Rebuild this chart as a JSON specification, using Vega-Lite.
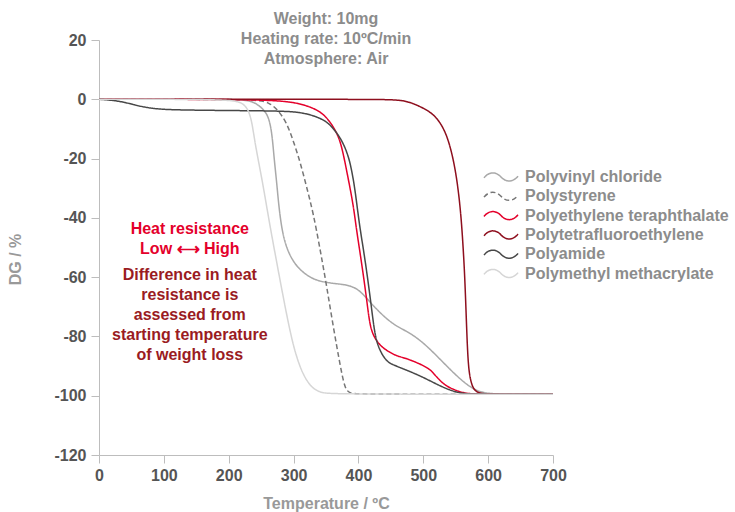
{
  "$schema": "https://vega.github.io/schema/vega-lite/v6.json",
  "width": 454,
  "height": 415,
  "autosize": "none",
  "padding": {"left": 99, "top": 40, "right": 182, "bottom": 57},
  "title": {
    "text": ["Weight: 10mg", "Heating rate: 10ºC/min", "Atmosphere: Air"],
    "fontSize": 16, "fontWeight": "bold", "color": "#8c8c8c", "font": "Liberation Sans",
    "lineHeight": 20, "offset": -35, "anchor": "middle", "frame": "group"
  },
  "datasets": {
    "curves": [
      {"polymer": "Polyvinyl chloride", "T": 0, "DG": 0},
      {"polymer": "Polyvinyl chloride", "T": 100, "DG": 0},
      {"polymer": "Polyvinyl chloride", "T": 200, "DG": 0},
      {"polymer": "Polyvinyl chloride", "T": 225, "DG": -0.3},
      {"polymer": "Polyvinyl chloride", "T": 238, "DG": -0.8},
      {"polymer": "Polyvinyl chloride", "T": 253, "DG": -3.1},
      {"polymer": "Polyvinyl chloride", "T": 262, "DG": -6},
      {"polymer": "Polyvinyl chloride", "T": 267, "DG": -12},
      {"polymer": "Polyvinyl chloride", "T": 270, "DG": -20},
      {"polymer": "Polyvinyl chloride", "T": 274, "DG": -28},
      {"polymer": "Polyvinyl chloride", "T": 278, "DG": -38},
      {"polymer": "Polyvinyl chloride", "T": 285, "DG": -48},
      {"polymer": "Polyvinyl chloride", "T": 298, "DG": -54.5},
      {"polymer": "Polyvinyl chloride", "T": 312, "DG": -58},
      {"polymer": "Polyvinyl chloride", "T": 328, "DG": -60.5},
      {"polymer": "Polyvinyl chloride", "T": 346, "DG": -61.7},
      {"polymer": "Polyvinyl chloride", "T": 370, "DG": -62.3},
      {"polymer": "Polyvinyl chloride", "T": 387, "DG": -62.8},
      {"polymer": "Polyvinyl chloride", "T": 403, "DG": -64.5},
      {"polymer": "Polyvinyl chloride", "T": 423, "DG": -69.8},
      {"polymer": "Polyvinyl chloride", "T": 449, "DG": -75.3},
      {"polymer": "Polyvinyl chloride", "T": 470, "DG": -77.8},
      {"polymer": "Polyvinyl chloride", "T": 484, "DG": -79.5},
      {"polymer": "Polyvinyl chloride", "T": 505, "DG": -83},
      {"polymer": "Polyvinyl chloride", "T": 536, "DG": -90},
      {"polymer": "Polyvinyl chloride", "T": 562, "DG": -95.5},
      {"polymer": "Polyvinyl chloride", "T": 582, "DG": -98.4},
      {"polymer": "Polyvinyl chloride", "T": 600, "DG": -99.4},
      {"polymer": "Polyvinyl chloride", "T": 650, "DG": -99.5},
      {"polymer": "Polyvinyl chloride", "T": 700, "DG": -99.5},

      {"polymer": "Polystyrene", "T": 0, "DG": 0},
      {"polymer": "Polystyrene", "T": 200, "DG": 0},
      {"polymer": "Polystyrene", "T": 248, "DG": -0.3},
      {"polymer": "Polystyrene", "T": 262, "DG": -1.2},
      {"polymer": "Polystyrene", "T": 274, "DG": -3.1},
      {"polymer": "Polystyrene", "T": 289, "DG": -7.6},
      {"polymer": "Polystyrene", "T": 300, "DG": -14.3},
      {"polymer": "Polystyrene", "T": 310, "DG": -21},
      {"polymer": "Polystyrene", "T": 320, "DG": -29.5},
      {"polymer": "Polystyrene", "T": 330, "DG": -38},
      {"polymer": "Polystyrene", "T": 341, "DG": -50.7},
      {"polymer": "Polystyrene", "T": 351, "DG": -63},
      {"polymer": "Polystyrene", "T": 361, "DG": -76.5},
      {"polymer": "Polystyrene", "T": 372, "DG": -90},
      {"polymer": "Polystyrene", "T": 379, "DG": -97.5},
      {"polymer": "Polystyrene", "T": 386, "DG": -99.2},
      {"polymer": "Polystyrene", "T": 400, "DG": -99.5},
      {"polymer": "Polystyrene", "T": 700, "DG": -99.5},

      {"polymer": "Polyethylene teraphthalate", "T": 0, "DG": 0},
      {"polymer": "Polyethylene teraphthalate", "T": 150, "DG": 0},
      {"polymer": "Polyethylene teraphthalate", "T": 250, "DG": -0.2},
      {"polymer": "Polyethylene teraphthalate", "T": 289, "DG": -0.7},
      {"polymer": "Polyethylene teraphthalate", "T": 310, "DG": -1.5},
      {"polymer": "Polyethylene teraphthalate", "T": 330, "DG": -2.9},
      {"polymer": "Polyethylene teraphthalate", "T": 345, "DG": -4.8},
      {"polymer": "Polyethylene teraphthalate", "T": 356, "DG": -7.5},
      {"polymer": "Polyethylene teraphthalate", "T": 366, "DG": -11},
      {"polymer": "Polyethylene teraphthalate", "T": 374, "DG": -15.3},
      {"polymer": "Polyethylene teraphthalate", "T": 384, "DG": -26.5},
      {"polymer": "Polyethylene teraphthalate", "T": 392, "DG": -35.5},
      {"polymer": "Polyethylene teraphthalate", "T": 397, "DG": -44},
      {"polymer": "Polyethylene teraphthalate", "T": 402, "DG": -51},
      {"polymer": "Polyethylene teraphthalate", "T": 408, "DG": -60},
      {"polymer": "Polyethylene teraphthalate", "T": 413, "DG": -68},
      {"polymer": "Polyethylene teraphthalate", "T": 418, "DG": -77},
      {"polymer": "Polyethylene teraphthalate", "T": 425, "DG": -80.5},
      {"polymer": "Polyethylene teraphthalate", "T": 433, "DG": -83},
      {"polymer": "Polyethylene teraphthalate", "T": 445, "DG": -85},
      {"polymer": "Polyethylene teraphthalate", "T": 459, "DG": -86.6},
      {"polymer": "Polyethylene teraphthalate", "T": 472, "DG": -87.3},
      {"polymer": "Polyethylene teraphthalate", "T": 484, "DG": -88.3},
      {"polymer": "Polyethylene teraphthalate", "T": 497, "DG": -89.5},
      {"polymer": "Polyethylene teraphthalate", "T": 510, "DG": -91},
      {"polymer": "Polyethylene teraphthalate", "T": 518, "DG": -93},
      {"polymer": "Polyethylene teraphthalate", "T": 526, "DG": -95},
      {"polymer": "Polyethylene teraphthalate", "T": 536, "DG": -96.8},
      {"polymer": "Polyethylene teraphthalate", "T": 546, "DG": -97.8},
      {"polymer": "Polyethylene teraphthalate", "T": 556, "DG": -98.7},
      {"polymer": "Polyethylene teraphthalate", "T": 567, "DG": -99.2},
      {"polymer": "Polyethylene teraphthalate", "T": 580, "DG": -99.5},
      {"polymer": "Polyethylene teraphthalate", "T": 700, "DG": -99.5},

      {"polymer": "Polytetrafluoroethylene", "T": 0, "DG": 0},
      {"polymer": "Polytetrafluoroethylene", "T": 400, "DG": 0},
      {"polymer": "Polytetrafluoroethylene", "T": 455, "DG": -0.1},
      {"polymer": "Polytetrafluoroethylene", "T": 475, "DG": -0.6},
      {"polymer": "Polytetrafluoroethylene", "T": 495, "DG": -2.4},
      {"polymer": "Polytetrafluoroethylene", "T": 510, "DG": -4.2},
      {"polymer": "Polytetrafluoroethylene", "T": 521, "DG": -6.3},
      {"polymer": "Polytetrafluoroethylene", "T": 532, "DG": -10},
      {"polymer": "Polytetrafluoroethylene", "T": 541, "DG": -15.3},
      {"polymer": "Polytetrafluoroethylene", "T": 550, "DG": -24},
      {"polymer": "Polytetrafluoroethylene", "T": 557, "DG": -36},
      {"polymer": "Polytetrafluoroethylene", "T": 561, "DG": -48},
      {"polymer": "Polytetrafluoroethylene", "T": 564, "DG": -60},
      {"polymer": "Polytetrafluoroethylene", "T": 566, "DG": -72},
      {"polymer": "Polytetrafluoroethylene", "T": 568, "DG": -84},
      {"polymer": "Polytetrafluoroethylene", "T": 570, "DG": -91},
      {"polymer": "Polytetrafluoroethylene", "T": 573, "DG": -95},
      {"polymer": "Polytetrafluoroethylene", "T": 577, "DG": -97.5},
      {"polymer": "Polytetrafluoroethylene", "T": 582, "DG": -98.7},
      {"polymer": "Polytetrafluoroethylene", "T": 590, "DG": -99.3},
      {"polymer": "Polytetrafluoroethylene", "T": 605, "DG": -99.5},
      {"polymer": "Polytetrafluoroethylene", "T": 700, "DG": -99.5},

      {"polymer": "Polyamide", "T": 0, "DG": 0},
      {"polymer": "Polyamide", "T": 20, "DG": -0.3},
      {"polymer": "Polyamide", "T": 40, "DG": -1},
      {"polymer": "Polyamide", "T": 63, "DG": -2.4},
      {"polymer": "Polyamide", "T": 89, "DG": -3.3},
      {"polymer": "Polyamide", "T": 120, "DG": -3.6},
      {"polymer": "Polyamide", "T": 200, "DG": -3.8},
      {"polymer": "Polyamide", "T": 260, "DG": -3.9},
      {"polymer": "Polyamide", "T": 295, "DG": -4.1},
      {"polymer": "Polyamide", "T": 315, "DG": -4.6},
      {"polymer": "Polyamide", "T": 335, "DG": -5.8},
      {"polymer": "Polyamide", "T": 351, "DG": -7.5},
      {"polymer": "Polyamide", "T": 362, "DG": -10},
      {"polymer": "Polyamide", "T": 372, "DG": -13},
      {"polymer": "Polyamide", "T": 380, "DG": -16.5},
      {"polymer": "Polyamide", "T": 387, "DG": -21},
      {"polymer": "Polyamide", "T": 393, "DG": -28},
      {"polymer": "Polyamide", "T": 397, "DG": -34.4},
      {"polymer": "Polyamide", "T": 402, "DG": -43},
      {"polymer": "Polyamide", "T": 408, "DG": -51},
      {"polymer": "Polyamide", "T": 414, "DG": -60},
      {"polymer": "Polyamide", "T": 420, "DG": -70},
      {"polymer": "Polyamide", "T": 425, "DG": -79},
      {"polymer": "Polyamide", "T": 431, "DG": -84},
      {"polymer": "Polyamide", "T": 443, "DG": -88.5},
      {"polymer": "Polyamide", "T": 454, "DG": -89.6},
      {"polymer": "Polyamide", "T": 472, "DG": -91.2},
      {"polymer": "Polyamide", "T": 490, "DG": -92.8},
      {"polymer": "Polyamide", "T": 508, "DG": -94.7},
      {"polymer": "Polyamide", "T": 526, "DG": -96.7},
      {"polymer": "Polyamide", "T": 540, "DG": -98},
      {"polymer": "Polyamide", "T": 551, "DG": -98.8},
      {"polymer": "Polyamide", "T": 565, "DG": -99.3},
      {"polymer": "Polyamide", "T": 580, "DG": -99.5},
      {"polymer": "Polyamide", "T": 700, "DG": -99.5},

      {"polymer": "Polymethyl methacrylate", "T": 0, "DG": 0},
      {"polymer": "Polymethyl methacrylate", "T": 150, "DG": 0},
      {"polymer": "Polymethyl methacrylate", "T": 200, "DG": -0.3},
      {"polymer": "Polymethyl methacrylate", "T": 217, "DG": -0.8},
      {"polymer": "Polymethyl methacrylate", "T": 228, "DG": -2.5},
      {"polymer": "Polymethyl methacrylate", "T": 235, "DG": -6.5},
      {"polymer": "Polymethyl methacrylate", "T": 240, "DG": -14},
      {"polymer": "Polymethyl methacrylate", "T": 246, "DG": -21},
      {"polymer": "Polymethyl methacrylate", "T": 253, "DG": -29},
      {"polymer": "Polymethyl methacrylate", "T": 263, "DG": -42},
      {"polymer": "Polymethyl methacrylate", "T": 274, "DG": -55},
      {"polymer": "Polymethyl methacrylate", "T": 286, "DG": -69},
      {"polymer": "Polymethyl methacrylate", "T": 298, "DG": -82},
      {"polymer": "Polymethyl methacrylate", "T": 309, "DG": -90},
      {"polymer": "Polymethyl methacrylate", "T": 320, "DG": -95},
      {"polymer": "Polymethyl methacrylate", "T": 331, "DG": -97.8},
      {"polymer": "Polymethyl methacrylate", "T": 343, "DG": -99},
      {"polymer": "Polymethyl methacrylate", "T": 360, "DG": -99.5},
      {"polymer": "Polymethyl methacrylate", "T": 700, "DG": -99.5}
    ],
    "note1": [
      {"T": 140, "DG": -45.6, "label": ["Heat resistance", "Low ⟷ High"]}
    ],
    "note2": [
      {"T": 140, "DG": -61.1, "label": ["Difference in heat", "resistance is", "assessed from", "starting temperature", "of weight loss"]}
    ]
  },
  "layer": [
    {
      "data": {"name": "curves"},
      "mark": {"type": "line", "interpolate": "basis", "strokeWidth": 1.5},
      "encoding": {
        "x": {
          "field": "T", "type": "quantitative",
          "scale": {"domain": [0, 700], "nice": false},
          "axis": {"values": [0, 100, 200, 300, 400, 500, 600, 700], "title": "Temperature / ºC", "titleY": 48, "titleBaseline": "middle", "labelPadding": 4, "labelFlush": false}
        },
        "y": {
          "field": "DG", "type": "quantitative",
          "scale": {"domain": [-120, 20], "nice": false},
          "axis": {"values": [-120, -100, -80, -60, -40, -20, 0, 20], "title": "DG / %", "titleX": -84, "titleY": 219, "titleAngle": -90, "titleAlign": "center", "titleBaseline": "middle", "labelPadding": 5, "labelExpr": "replace(datum.label, '−', '-')"}
        },
        "color": {
          "field": "polymer", "type": "nominal",
          "scale": {
            "domain": ["Polyvinyl chloride", "Polystyrene", "Polyethylene teraphthalate", "Polytetrafluoroethylene", "Polyamide", "Polymethyl methacrylate"],
            "range": ["#a9a9a9", "#767676", "#e4002b", "#8e0f1e", "#474747", "#d6d6d6"]
          },
          "legend": {
            "orient": "none", "legendX": 392.5, "legendY": 127.5, "title": null, "padding": 0,
            "symbolType": "M-2,0.1 C-1.4,-0.65 -0.6,-0.65 0,0 C0.6,0.65 1.4,0.65 2,-0.1",
            "symbolSize": 289, "symbolStrokeWidth": 1.5,
            "labelFontSize": 16, "labelFontWeight": "bold", "labelColor": "#8c8c8c", "labelFont": "Liberation Sans",
            "labelOffset": 14.5, "rowPadding": 1.3, "labelLimit": 400,
            "encode": {"symbols": {"update": {"fill": {"value": "transparent"}}}}
          }
        },
        "strokeDash": {
          "field": "polymer", "type": "nominal",
          "scale": {
            "domain": ["Polyvinyl chloride", "Polystyrene", "Polyethylene teraphthalate", "Polytetrafluoroethylene", "Polyamide", "Polymethyl methacrylate"],
            "range": [[1, 0], [5, 3], [1, 0], [1, 0], [1, 0], [1, 0]]
          },
          "legend": null
        }
      }
    },
    {
      "data": {"name": "note1"},
      "mark": {"type": "text", "align": "center", "baseline": "alphabetic", "fontSize": 16, "fontWeight": "bold", "font": "Liberation Sans", "color": "#e4002b", "lineHeight": 19.5},
      "encoding": {
        "x": {"field": "T", "type": "quantitative"},
        "y": {"field": "DG", "type": "quantitative"},
        "text": {"field": "label"}
      }
    },
    {
      "data": {"name": "note2"},
      "mark": {"type": "text", "align": "center", "baseline": "alphabetic", "fontSize": 16, "fontWeight": "bold", "font": "Liberation Sans", "color": "#9a1b22", "lineHeight": 19.8},
      "encoding": {
        "x": {"field": "T", "type": "quantitative"},
        "y": {"field": "DG", "type": "quantitative"},
        "text": {"field": "label"}
      }
    }
  ],
  "config": {
    "view": {"stroke": null},
    "axis": {
      "grid": false, "domainColor": "#bdbdbd", "tickColor": "#bdbdbd", "tickSize": 8,
      "labelColor": "#555555", "labelFont": "Liberation Sans", "labelFontSize": 16, "labelFontWeight": "bold",
      "titleColor": "#999999", "titleFont": "Liberation Sans", "titleFontSize": 16, "titleFontWeight": "bold"
    }
  }
}
